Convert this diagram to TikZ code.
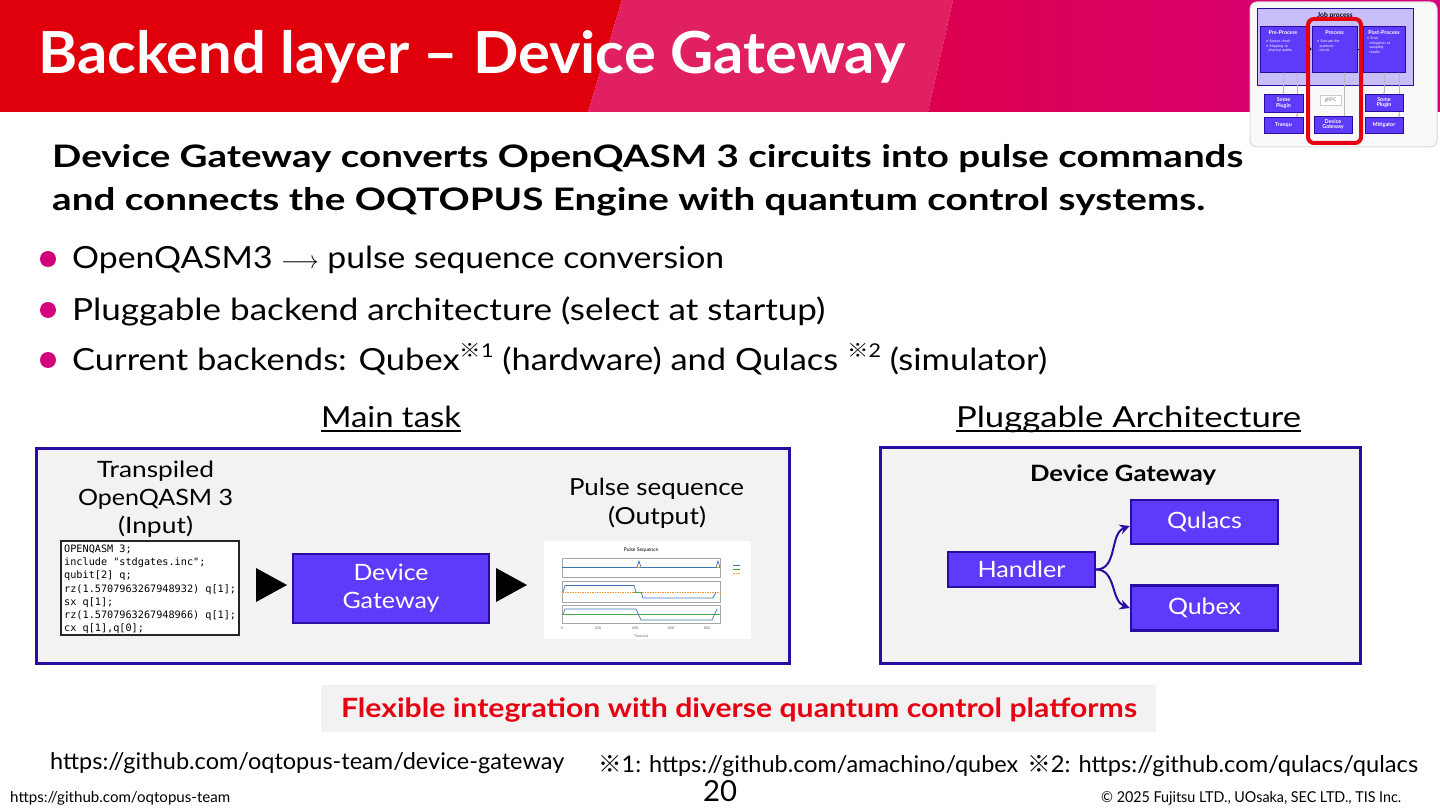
\documentclass[tikz,border=0pt]{standalone}
\usepackage{fontspec}
\usepackage{graphicx}
\setmainfont{Lato}
\newfontfamily\cjk{Noto Sans CJK JP}
\newfontfamily\codefont{DejaVu Sans Mono}
\usetikzlibrary{arrows.meta}
\definecolor{fjred}{RGB}{224,0,12}
\definecolor{fjpink}{RGB}{224,32,96}
\definecolor{fjmagA}{RGB}{220,0,78}
\definecolor{fjmagB}{RGB}{214,0,124}
\definecolor{bulletmag}{RGB}{210,0,122}
\definecolor{boxfill}{RGB}{94,58,250}
\definecolor{boxline}{RGB}{42,12,162}
\definecolor{panel}{RGB}{242,242,242}
\definecolor{lav}{RGB}{200,190,250}
\definecolor{bannerred}{RGB}{230,0,18}
\definecolor{mplblue}{RGB}{60,120,175}
\definecolor{mplgreen}{RGB}{70,170,70}
\definecolor{mplorange}{RGB}{250,150,50}
\newsavebox\fitbox
\newlength\fitlen
\newcommand\hfit[2]{\sbox\fitbox{#2}\setlength\fitlen{\wd\fitbox}\pgfmathsetmacro\fitr{#1/\fitlen}\scalebox{\fitr}[1]{\usebox\fitbox}}
\newcommand\fsz[1]{\fontsize{#1}{#1}\selectfont}
\newcommand\refmark[1]{\raisebox{0.42em}{\fontsize{19}{19}\selectfont{\cjk ※}#1}}
\begin{document}
\begin{tikzpicture}[x=1pt,y=-1pt,
  txt/.style={inner sep=0pt, anchor=base},
  txtl/.style={inner sep=0pt, anchor=base west},
  pbox/.style={draw=boxline, line width=2.5pt, fill=boxfill, text=white, inner sep=0pt},
  outer/.style={draw=boxline, line width=3pt, fill=panel, inner sep=0pt},
  conn/.style={draw=boxline, line width=2pt, -{Stealth[length=10pt,width=10pt]}},
  tbox/.style={draw=boxline, line width=0.6pt, fill=boxfill, text=white, inner sep=0pt, font=\fontsize{5.4}{5.8}\selectfont\bfseries, align=center},
  tline/.style={draw=gray!55, line width=0.7pt, {Latex[length=2pt,width=2pt]}-{Latex[length=2pt,width=2pt]}},
  codeline/.style={inner sep=0pt, anchor=base west, font=\codefont\fontsize{10.2}{10.2}\selectfont},
  tick/.style={inner sep=0pt, anchor=base, font=\fontsize{3.5}{3.5}\selectfont, text=gray!70!black}
]
\useasboundingbox (0,0) rectangle (1440,810);
\fill[white] (0,0) rectangle (1440,810);
% ---------------- header
\fill[fjred] (0,0) -- (622,0) -- (588,112) -- (0,112) -- cycle;
\fill[fjpink] (622,0) -- (953,0) -- (928,112) -- (588,112) -- cycle;
\shade[left color=fjmagA, right color=fjmagB] (953,0) -- (1440,0) -- (1440,112) -- (928,112) -- cycle;
\node[txtl, text=white] (title) at (38,74) {\fsz{58}\bfseries\hfit{867}{Backend layer – Device Gateway}};

% ---------------- thumbnail
\draw[draw=gray!30, fill=gray!5, line width=1pt, rounded corners=7pt] (1250,2) rectangle (1437,147);
\node[draw=boxline, line width=0.6pt, fill=lav, minimum width=156pt, minimum height=77pt, inner sep=0pt] (jp) at (1335,46.5) {};
\node[inner sep=0pt, anchor=base, font=\fontsize{6.8}{6.8}\selectfont\bfseries] (jpl) at (1335,18) {Job process};
\node[tbox, minimum width=46pt, minimum height=46pt] (pre) at (1283,49) {};
\node[tbox, minimum width=45pt, minimum height=46pt] (proc) at (1334.5,49) {};
\node[tbox, minimum width=42pt, minimum height=46pt] (post) at (1384,49) {};
\node[inner sep=0pt, anchor=base, text=white, font=\fontsize{5.4}{5.4}\selectfont\bfseries] (prel) at (1283,35) {Pre-Process};
\node[inner sep=0pt, anchor=base, text=white, font=\fontsize{5.4}{5.4}\selectfont\bfseries] (procl) at (1334.5,35) {Process};
\node[inner sep=0pt, anchor=base, text=white, font=\fontsize{5.4}{5.4}\selectfont\bfseries] (postl) at (1384,35) {Post-Process};
\node[inner sep=0pt, anchor=north west, text=white, text width=36pt, align=left, font=\fontsize{3.6}{4.5}\selectfont] (pret) at (1266,40) {• Syntax check\\• Mapping to\\\ \ physical qubits};
\node[inner sep=0pt, anchor=north west, text=white, text width=36pt, align=left, font=\fontsize{3.6}{4.5}\selectfont] (proct) at (1317,40) {• Execute the\\\ \ quantum\\\ \ circuit};
\node[inner sep=0pt, anchor=north west, text=white, text width=36pt, align=left, font=\fontsize{3.6}{4.5}\selectfont] (postt) at (1367,37) {• Error\\\ \ mitigation of\\\ \ sampling\\\ \ results};
\draw[line width=0.5pt, -{Triangle[length=3.5pt,width=7pt]}] (pre.east) -- (proc.west);
\draw[line width=0.5pt, -{Triangle[length=3.5pt,width=7pt]}] (proc.east) -- (post.west);
\draw[tline] (pre.south -| 1283.5,0) -- (1283.5,94);
\draw[tline] ([xshift=14pt]pre.south) -- (1297,117);
\draw[tline] ([xshift=10pt]proc.south) -- (1344.5,116);
\draw[tline] (post.south -| 1384,0) -- (1384,94);
\draw[tline] ([xshift=15pt]post.south) -- (1399,117);
\node[tbox, minimum width=39pt, minimum height=18pt] (sp1) at (1283.5,103) {Some\\Plugin};
\node[tbox, minimum width=39pt, minimum height=16pt] (tq) at (1283.5,125) {Tranqu};
\node[draw=gray!40, line width=0.4pt, fill=white, text=gray, minimum width=21pt, minimum height=10pt, inner sep=0pt, font=\fontsize{5}{5}\selectfont] (grpc) at (1330.5,100) {gRPC};
\node[tbox, minimum width=38pt, minimum height=17pt] (dgs) at (1333,124.5) {Device\\Gateway};
\node[tbox, minimum width=38pt, minimum height=17pt] (sp2) at (1384,102.5) {Some\\Plugin};
\node[tbox, minimum width=38pt, minimum height=16pt] (mit) at (1384,125) {Mitigator};
\draw[draw=bannerred, line width=4pt, rounded corners=6pt] (1308,19) rectangle (1361,143);

% ---------------- subtitle & bullets
\node[txtl] (sub1) at (52,168) {\fsz{31}\bfseries\hfit{1191}{Device Gateway converts OpenQASM 3 circuits into pulse commands}};
\node[txtl] (sub2) at (52,211) {\fsz{31}\bfseries\hfit{1153}{and connects the OQTOPUS Engine with quantum control systems.}};
\fill[bulletmag] (48,259) circle (8pt);
\fill[bulletmag] (48,310) circle (8pt);
\fill[bulletmag] (48,360) circle (8pt);
\node[txtl] (b1) at (72,269) {\fsz{30.5}\hfit{652}{OpenQASM3 \scalebox{0.85}[1]{$\longrightarrow$} pulse sequence conversion}};
\node[txtl] (b2) at (72,320) {\fsz{30.5}\hfit{753}{Pluggable backend architecture (select at startup)}};
\node[txtl] (b3) at (72,370) {\fsz{30.5}\hfit{975}{Current backends: Qubex\refmark{1} (hardware) and Qulacs \refmark{2} (simulator)}};

% ---------------- section headings
\node[txt] (mt) at (391,427) {\fsz{29}\hfit{140}{Main task}};
\draw[line width=1.6pt] ([yshift=-4pt]mt.base west) -- ([yshift=-4pt]mt.base east);
\node[txt] (pa) at (1128.5,427) {\fsz{29}\hfit{345}{Pluggable Architecture}};
\draw[line width=1.6pt] ([yshift=-4pt]pa.base west) -- ([yshift=-4pt]pa.base east);

% ---------------- main task panel
\node[outer, minimum width=753pt, minimum height=215pt] (mainbox) at (412.5,555.5) {};
\node[txt] (tin1) at (155.5,477) {\fsz{22.5}\hfit{117}{Transpiled}};
\node[txt] (tin2) at (155.5,505) {\fsz{22.5}\hfit{155}{OpenQASM 3}};
\node[txt] (tin3) at (155.5,533) {\fsz{22.5}\hfit{75}{(Input)}};
\node[draw=black!85, line width=1.6pt, fill=white, minimum width=178pt, minimum height=94pt, inner sep=0pt] (code) at (150,588) {};
\node[codeline] (c1) at (64,552) {OPENQASM 3;};
\node[codeline] (c2) at (64,565.3) {include "stdgates.inc";};
\node[codeline] (c3) at (64,578.6) {qubit[2] q;};
\node[codeline] (c4) at (64,592) {rz(1.5707963267948932) q[1];};
\node[codeline] (c5) at (64,605.2) {sx q[1];};
\node[codeline] (c6) at (64,618.5) {rz(1.5707963267948966) q[1];};
\node[codeline] (c7) at (64,631.5) {cx q[1],q[0];};
\fill (256,568) -- (287,585) -- (256,602) -- cycle;
\node[pbox, minimum width=196pt, minimum height=69pt, align=center, font=\fontsize{22.5}{28}\selectfont] (dgw) at (391,588.5) {\hfit{75}{Device}\\\hfit{97}{Gateway}};
\fill (496,568) -- (527,585) -- (496,602) -- cycle;
\node[txt] (pout1) at (656.5,495) {\fsz{23.5}\hfit{175}{Pulse sequence}};
\node[txt] (pout2) at (657,524) {\fsz{23.5}\hfit{98}{(Output)}};
% pulse plot
\node[fill=white, minimum width=207pt, minimum height=98pt, inner sep=0pt] (plot) at (647.5,590) {};
\node[txt, font=\fontsize{5}{5}\selectfont] (ptitle) at (641,551) {Pulse Sequence};
\draw[gray!70, line width=0.6pt] (562,558) rectangle (720,577);
\draw[gray!70, line width=0.6pt] (562,581) rectangle (720,602);
\draw[gray!70, line width=0.6pt] (562,605) rectangle (720,623);
\draw[mplgreen, line width=0.7pt] (562,567.5) -- (720,567.5);
\draw[mplorange, line width=0.7pt, dash pattern=on 1.5pt off 1pt] (562,567.5) -- (720,567.5);
\draw[mplblue, line width=0.7pt] (562,567.5) -- (637,567.5) -- (639,561) -- (641,567.5) -- (716,567.5) -- (718,561) -- (720,567.5);
\draw[mplorange, line width=0.7pt, dash pattern=on 1.5pt off 1pt] (562,592) -- (720,592);
\draw[mplblue, line width=0.7pt] (563,592) -- (565,585.5) -- (634,585.5) -- (636,592);
\draw[mplblue, line width=0.7pt] (641,592) -- (643,598) -- (713,598) -- (716,592);
\draw[mplgreen, line width=0.7pt] (634,592) -- (642,592);
\draw[mplgreen, line width=0.7pt] (562,614) -- (720,614);
\draw[mplblue, line width=0.7pt] (563,614) -- (565,609) -- (636,609) -- (641,620) -- (712,620) -- (717,609);
\draw[mplblue, line width=0.8pt] (733,565) -- (740,565);
\draw[mplgreen, line width=0.8pt] (733,569) -- (740,569);
\draw[mplorange, line width=0.8pt, dash pattern=on 1.5pt off 1pt] (733,573) -- (740,573);
\node[tick] (t0) at (562,629) {0};
\node[tick] (t2) at (598,629) {200};
\node[tick] (t4) at (635,629) {400};
\node[tick] (t6) at (671,629) {600};
\node[tick] (t8) at (707,629) {800};
\node[tick] (tx) at (641,637) {Time (ns)};

% ---------------- pluggable architecture panel
\node[outer, minimum width=480pt, minimum height=216pt] (plugbox) at (1120,555) {};
\node[txt] (dgt) at (1123,481) {\fsz{22.5}\bfseries\hfit{186}{Device Gateway}};
\node[pbox, minimum width=147pt, minimum height=35pt, font=\fsz{22.5}] (handler) at (1021.5,569.5) {\hfit{88}{Handler}};
\node[pbox, minimum width=147pt, minimum height=44pt, font=\fsz{22.5}] (qulacs) at (1204.5,522) {\hfit{75}{Qulacs}};
\node[pbox, minimum width=147pt, minimum height=45pt, font=\fsz{22.5}] (qubex) at (1204.5,608) {\hfit{73}{Qubex}};
\draw[conn] (handler.east) to[out=0, in=200] ([yshift=-4pt]qulacs.west);
\draw[conn] (handler.east) to[out=0, in=160] (qubex.west);

% ---------------- banner
\node[fill=panel, minimum width=835pt, minimum height=47pt, inner sep=0pt] (banner) at (738.5,708.5) {};
\node[txt, text=bannerred] (bantxt) at (739,717) {\fsz{26.5}\bfseries\hfit{796}{Flexible integration with diverse quantum control platforms}};

% ---------------- footer
\node[txtl] (url1) at (50,769) {\fsz{23}\hfit{514}{https://github.com/oqtopus-team/device-gateway}};
\node[txtl] (url2) at (598,772) {\fsz{23}\hfit{420}{{\cjk ※}1: https://github.com/amachino/qubex}};
\node[txtl] (url3) at (1027,772) {\fsz{23}\hfit{391}{{\cjk ※}2: https://github.com/qulacs/qulacs}};
\node[txt] (pageno) at (720,801) {\fsz{29}\hfit{34}{20}};
\node[txtl] (team) at (10,802) {\fsz{15}\hfit{220}{https://github.com/oqtopus-team}};
\node[txtl] (copy) at (1101,802) {\fsz{15}\hfit{300}{© 2025 Fujitsu LTD., UOsaka, SEC LTD., TIS Inc.}};
\end{tikzpicture}
\end{document}
